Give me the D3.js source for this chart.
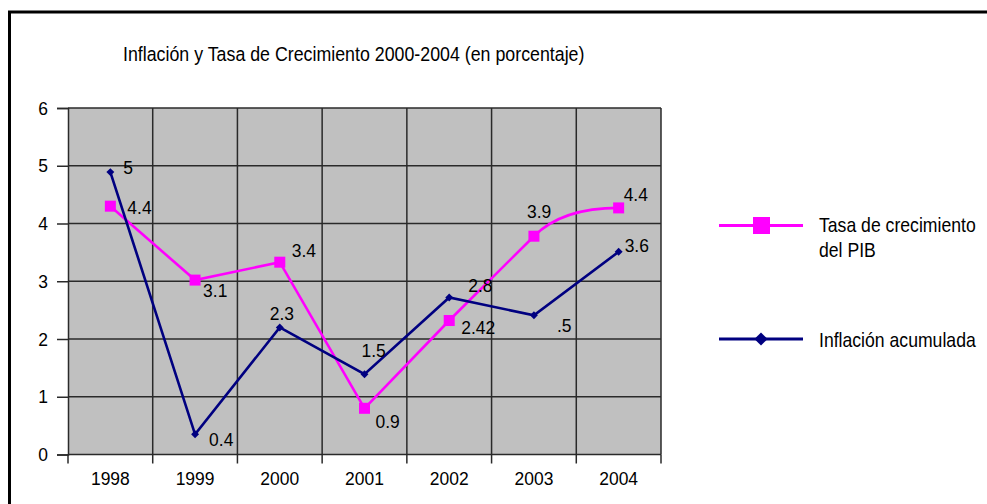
<!DOCTYPE html>
<html>
<head>
<meta charset="utf-8">
<script src="https://cdn.jsdelivr.net/npm/d3@7"></script>
<style>
  body { margin: 0; background: #fff; }
  text { font-family: "Liberation Sans Narrow", "Arial Narrow", "Liberation Sans", sans-serif; fill: #000; }
</style>
</head>
<body>
<div id="chart"></div>
<script>
// data
var years = ["1998", "1999", "2000", "2001", "2002", "2003", "2004"];
var pibValues = [4.3, 3.02, 3.33, 0.8, 2.32, 3.78, 4.27];
var pibLabels = ["4.4", "3.1", "3.4", "0.9", "2.42", "3.9", "4.4"];
var inflValues = [4.89, 0.35, 2.2, 1.39, 2.72, 2.41, 3.51];
var inflLabels = ["5", "0.4", "2.3", "1.5", "2.8", ".5", "3.6"];
var yTicks = [0, 1, 2, 3, 4, 5, 6];

// label placement (layout only)
var pibLabelOff = [[17, 8], [8, 17], [12, -5], [11, 20], [12, 13], [-7, -18], [5, -7]];
var inflLabelOff = [[13, 2], [14, 12], [-10, -7], [-3, -17], [19, -5], [23, 17], [6, 0]];

var width = 987, height = 504;
var plot = {left: 68, right: 661, top: 108, bottom: 454.5};

// no narrow font installed: squeeze the text horizontally around its anchor
function condense(sel, k) {
  sel.each(function() {
    var t = d3.select(this);
    var tx = +t.attr("x") || 0, ty = +t.attr("y") || 0;
    t.attr("x", 0).attr("y", 0)
      .attr("transform", "translate(" + tx + "," + ty + ") scale(" + k + ",1)");
  });
}

var svg = d3.select("#chart").append("svg")
    .attr("width", width)
    .attr("height", height);

svg.append("rect").attr("width", width).attr("height", height).attr("fill", "#fff");

// outer frame (only left and top show)
svg.append("path")
    .attr("d", "M9.5," + height + "V12H" + width)
    .attr("fill", "none")
    .attr("stroke", "#000")
    .attr("stroke-width", 3);

svg.append("text")
    .attr("x", 123)
    .attr("y", 61)
    .attr("font-size", 20.5)
    .text("Inflación y Tasa de Crecimiento 2000-2004 (en porcentaje)")
    .call(condense, 0.868);

var x = d3.scaleBand().domain(years).range([plot.left, plot.right]);
var xEdge = d3.scaleLinear().domain([0, years.length]).range([plot.left, plot.right]);
var y = d3.scaleLinear().domain([0, 6]).range([plot.bottom, plot.top]);
var cx = function(d, i) { return x(years[i]) + x.bandwidth() / 2; };

svg.append("rect")
    .attr("x", plot.left)
    .attr("y", plot.top)
    .attr("width", plot.right - plot.left)
    .attr("height", plot.bottom - plot.top)
    .attr("fill", "#c0c0c0");

// grid
svg.append("g").selectAll("line")
    .data(yTicks.slice(1))
    .enter().append("line")
    .attr("x1", plot.left).attr("x2", plot.right)
    .attr("y1", y).attr("y2", y)
    .attr("stroke", "#2a2a2a")
    .attr("stroke-width", 1.5);

svg.append("g").selectAll("line")
    .data(d3.range(1, years.length + 1))
    .enter().append("line")
    .attr("x1", xEdge).attr("x2", xEdge)
    .attr("y1", plot.top).attr("y2", plot.bottom)
    .attr("stroke", "#2a2a2a")
    .attr("stroke-width", 1.5);

// y axis
var yAxis = svg.append("g")
    .attr("transform", "translate(" + plot.left + ",0)")
    .call(d3.axisLeft(y).tickValues(yTicks).tickSize(11).tickPadding(9).tickFormat(d3.format("d")));
yAxis.select(".domain").attr("stroke", "#2a2a2a").attr("stroke-width", 1.5);
yAxis.selectAll(".tick line").attr("stroke", "#2a2a2a").attr("stroke-width", 1.5);
yAxis.selectAll(".tick text")
    .attr("font-size", 19)
    .attr("font-family", "Liberation Sans Narrow, Arial Narrow, Liberation Sans, sans-serif")
    .attr("fill", "#000")
    .call(condense, 0.92);

// x axis
svg.append("line")
    .attr("x1", plot.left).attr("x2", plot.right)
    .attr("y1", plot.bottom).attr("y2", plot.bottom)
    .attr("stroke", "#2a2a2a").attr("stroke-width", 1.5);
svg.append("g").selectAll("line")
    .data(d3.range(0, years.length + 1))
    .enter().append("line")
    .attr("x1", xEdge).attr("x2", xEdge)
    .attr("y1", plot.bottom).attr("y2", plot.bottom + 9)
    .attr("stroke", "#2a2a2a").attr("stroke-width", 1.5);
svg.append("g").selectAll("text")
    .data(years)
    .enter().append("text")
    .attr("x", function(d) { return x(d) + x.bandwidth() / 2; })
    .attr("y", plot.bottom + 30.5)
    .attr("text-anchor", "middle")
    .attr("font-size", 19)
    .text(function(d) { return d; })
    .call(condense, 0.92);

// PIB line: straight segments, last segment bends into the 2004 point
var pibPts = pibValues.map(function(v, i) { return [cx(v, i), y(v)]; });
var p = d3.path();
p.moveTo(pibPts[0][0], pibPts[0][1]);
for (var i = 1; i < pibPts.length - 1; i++) p.lineTo(pibPts[i][0], pibPts[i][1]);
var a = pibPts[pibPts.length - 3], b = pibPts[pibPts.length - 2], c = pibPts[pibPts.length - 1];
var slope = (b[1] - a[1]) / (b[0] - a[0]);
var ctrlX = b[0] + (c[1] - b[1]) / slope;
p.quadraticCurveTo(ctrlX, c[1], c[0], c[1]);

svg.append("path")
    .attr("d", p.toString())
    .attr("fill", "none")
    .attr("stroke", "#ff00ff")
    .attr("stroke-width", 2.6);

var line = d3.line().x(cx).y(function(d) { return y(d); });
svg.append("path")
    .datum(inflValues)
    .attr("d", line)
    .attr("fill", "none")
    .attr("stroke", "#000080")
    .attr("stroke-width", 2.6);

// markers
svg.append("g").selectAll("rect")
    .data(pibValues)
    .enter().append("rect")
    .attr("x", function(d, i) { return cx(d, i) - 5.5; })
    .attr("y", function(d) { return y(d) - 5.5; })
    .attr("width", 11).attr("height", 11)
    .attr("fill", "#ff00ff");

var diamond = d3.symbol().type(d3.symbolDiamond2).size(40);
svg.append("g").selectAll("path")
    .data(inflValues)
    .enter().append("path")
    .attr("d", diamond)
    .attr("transform", function(d, i) { return "translate(" + cx(d, i) + "," + y(d) + ")"; })
    .attr("fill", "#000080");

// value labels
svg.append("g").selectAll("text")
    .data(pibValues)
    .enter().append("text")
    .attr("x", function(d, i) { return cx(d, i) + pibLabelOff[i][0]; })
    .attr("y", function(d, i) { return y(d) + pibLabelOff[i][1]; })
    .attr("font-size", 19)
    .text(function(d, i) { return pibLabels[i]; })
    .call(condense, 0.92);

svg.append("g").selectAll("text")
    .data(inflValues)
    .enter().append("text")
    .attr("x", function(d, i) { return cx(d, i) + inflLabelOff[i][0]; })
    .attr("y", function(d, i) { return y(d) + inflLabelOff[i][1]; })
    .attr("font-size", 19)
    .text(function(d, i) { return inflLabels[i]; })
    .call(condense, 0.92);

// legend
var legend = svg.append("g");
legend.append("line")
    .attr("x1", 719).attr("x2", 803).attr("y1", 225.5).attr("y2", 225.5)
    .attr("stroke", "#ff00ff").attr("stroke-width", 3);
legend.append("rect")
    .attr("x", 753).attr("y", 217).attr("width", 17).attr("height", 17)
    .attr("fill", "#ff00ff");
legend.append("text").attr("x", 819).attr("y", 232).attr("font-size", 20.5).text("Tasa de crecimiento");
legend.append("text").attr("x", 819).attr("y", 257).attr("font-size", 20.5).text("del PIB");

legend.append("line")
    .attr("x1", 719).attr("x2", 803).attr("y1", 339).attr("y2", 339)
    .attr("stroke", "#000080").attr("stroke-width", 3);
legend.append("path")
    .attr("d", d3.symbol().type(d3.symbolDiamond2).size(110))
    .attr("transform", "translate(761,339)")
    .attr("fill", "#000080");
legend.append("text").attr("x", 819).attr("y", 347).attr("font-size", 20.5).text("Inflación acumulada");
legend.selectAll("text").call(condense, 0.86);
</script>
</body>
</html>
